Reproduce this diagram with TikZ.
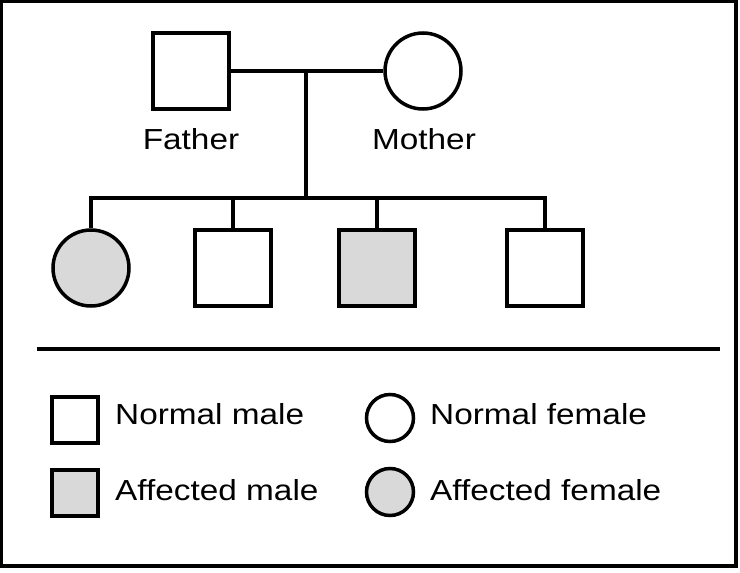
\documentclass[tikz,border=0pt]{standalone}
\usepackage{fontspec}
\setmainfont{Liberation Sans}[FakeStretch=1.15]
\usetikzlibrary{positioning, calc}
\definecolor{affgray}{RGB}{217,217,217}

\begin{document}
\begin{tikzpicture}[
    x=1pt, y=-1pt,
    lw/.style={line width=3.5pt},
    male/.style={draw, lw, rectangle, minimum size=76pt, inner sep=0pt},
    female/.style={draw, lw, circle, minimum size=76pt, inner sep=0pt},
    aff/.style={fill=affgray},
    keymale/.style={male, minimum size=46pt},
    keyfemale/.style={female, minimum size=47pt},
    lbl/.style={font=\fontsize{29}{33}\selectfont, inner sep=0pt},
    link/.style={lw}
]
\useasboundingbox (0,0) rectangle (740,573);
\draw[lw] (1.5,1.5) rectangle (736,566);

% parents
\node[male]   (father) at (191,71) {};
\node[female] (mother) at (423,71) {};
\node[lbl, anchor=base] (fatherlbl) at (191,149) {Father};
\node[lbl, anchor=base] (motherlbl) at (424,149) {Mother};

% children
\node[female, aff] (c1) at (91,268)  {};
\node[male]        (c2) at (233,268) {};
\node[male, aff]   (c3) at (377,268) {};
\node[male]        (c4) at (545,268) {};

\coordinate (mid) at (306,71);
\coordinate (sib) at (306,198);

\draw[link] (father.east) -- (mother.west);
\draw[link] (mid) -- (sib);
\draw[link] (c1.north) -- (c1.north |- sib) -- (c4.north |- sib) -- (c4.north);
\foreach \c in {c2, c3}
    \draw[link] (\c.north) -- (\c.north |- sib);

% legend
\draw[lw] (37,349) -- (720,349);

\node[keymale]        (knm) at (75,420)  {};
\node[keyfemale]      (knf) at (390,418) {};
\node[keymale, aff]   (kam) at (75,493)  {};
\node[keyfemale, aff] (kaf) at (390,492) {};

\node[lbl, anchor=base west] (knmtxt) at (115,424) {Normal male};
\node[lbl, anchor=base west] (knftxt) at (430,424) {Normal female};
\node[lbl, anchor=base west] (kamtxt) at (115,500) {Affected male};
\node[lbl, anchor=base west] (kaftxt) at (430,500) {Affected female};

\end{tikzpicture}
\end{document}
